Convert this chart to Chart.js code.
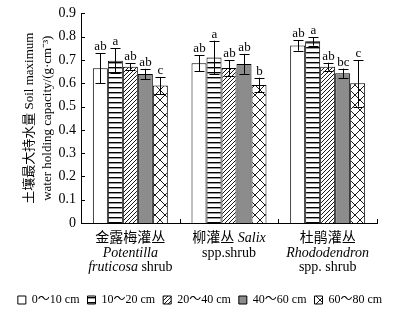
<!DOCTYPE html>
<html>
<head>
<meta charset="utf-8">
<script src="https://cdn.jsdelivr.net/npm/chart.js@4"></script>
<style>
  html, body { margin: 0; padding: 0; background: #fff; }
  #wrap { width: 400px; height: 316px; }
</style>
</head>
<body>
<div id="wrap"><canvas id="chart" width="400" height="316"></canvas></div>
<script>
const categories = ['金露梅灌丛', '柳灌丛', '杜鹃灌丛'];
// x label lines: [text, italic]
const categoryLines = [
  [[['金露梅灌丛', false]], [['Potentilla', true]], [['fruticosa', true], [' shrub', false]]],
  [[['柳灌丛 ', false], ['Salix', true]], [['spp.shrub', false]]],
  [[['杜鹃灌丛', false]], [['Rhododendron', true]], [['spp. shrub', false]]]
];
const depths = ['0～10 cm', '10～20 cm', '20～40 cm', '40～60 cm', '60～80 cm'];
const d0_10 = [0.665, 0.686, 0.762];
const d10_20 = [0.697, 0.711, 0.780];
const d20_40 = [0.671, 0.666, 0.671];
const d40_60 = [0.640, 0.683, 0.643];
const d60_80 = [0.590, 0.593, 0.600];
const err0_10 = [0.065, 0.034, 0.022];
const err10_20 = [0.053, 0.072, 0.018];
const err20_40 = [0.015, 0.034, 0.017];
const err40_60 = [0.022, 0.043, 0.020];
const err60_80 = [0.037, 0.031, 0.100];
const sig0_10 = ['ab', 'ab', 'ab'];
const sig10_20 = ['a', 'a', 'a'];
const sig20_40 = ['ab', 'ab', 'ab'];
const sig40_60 = ['ab', 'ab', 'bc'];
const sig60_80 = ['c', 'b', 'c'];
const yTicks = [0, 0.1, 0.2, 0.3, 0.4, 0.5, 0.6, 0.7, 0.8, 0.9];

const serif = "'Liberation Serif', 'Times New Roman', 'Noto Sans CJK SC', serif";

function makePattern(kind) {
  const c = document.createElement('canvas');
  const ctx = c.getContext('2d');
  if (kind === 'white') {
    return '#ffffff';
  }
  if (kind === 'gray') {
    return '#8c8c8c';
  }
  if (kind === 'hline') {
    c.width = 5; c.height = 5;
    ctx.fillStyle = '#fff'; ctx.fillRect(0, 0, 5, 5);
    ctx.fillStyle = '#000'; ctx.fillRect(0, 2, 5, 1.4);
  } else if (kind === 'diag') {
    c.width = 4; c.height = 4;
    ctx.fillStyle = '#fff'; ctx.fillRect(0, 0, 4, 4);
    ctx.strokeStyle = '#000'; ctx.lineWidth = 0.9;
    ctx.beginPath();
    ctx.moveTo(-1, 5); ctx.lineTo(5, -1);
    ctx.moveTo(-1, 1); ctx.lineTo(1, -1);
    ctx.moveTo(3, 5); ctx.lineTo(5, 3);
    ctx.stroke();
  } else if (kind === 'cross') {
    c.width = 10; c.height = 10;
    ctx.fillStyle = '#fff'; ctx.fillRect(0, 0, 10, 10);
    ctx.strokeStyle = '#000'; ctx.lineWidth = 0.9;
    ctx.beginPath();
    ctx.moveTo(0, 0); ctx.lineTo(10, 10);
    ctx.moveTo(10, 0); ctx.lineTo(0, 10);
    ctx.stroke();
  }
  return ctx.createPattern(c, 'repeat');
}

const values = [d0_10, d10_20, d20_40, d40_60, d60_80];
const errors = [err0_10, err10_20, err20_40, err40_60, err60_80];
const sigs = [sig0_10, sig10_20, sig20_40, sig40_60, sig60_80];
const fills = ['white', 'hline', 'diag', 'gray', 'cross'].map(makePattern);

const datasets = depths.map((d, i) => ({
  label: d,
  data: values[i],
  errors: errors[i],
  sig: sigs[i],
  backgroundColor: fills[i],
  borderColor: '#000',
  borderWidth: 1,
  borderSkipped: 'bottom',
  categoryPercentage: 0.76,
  barPercentage: 1
}));

const errorBars = {
  id: 'errorBars',
  afterDatasetsDraw(chart) {
    const ctx = chart.ctx;
    const y = chart.scales.y;
    ctx.save();
    ctx.strokeStyle = '#000';
    ctx.lineWidth = 1;
    ctx.fillStyle = '#000';
    ctx.font = '13px ' + serif;
    ctx.textAlign = 'center';
    ctx.textBaseline = 'alphabetic';
    chart.data.datasets.forEach((ds, i) => {
      chart.getDatasetMeta(i).data.forEach((bar, j) => {
        const v = ds.data[j], e = ds.errors[j];
        const top = y.getPixelForValue(v + e);
        const bot = y.getPixelForValue(v - e);
        const x = Math.round(bar.x) + 0.5;
        ctx.beginPath();
        ctx.moveTo(x, top); ctx.lineTo(x, bot);
        ctx.moveTo(x - 5, Math.round(top) + 0.5); ctx.lineTo(x + 5, Math.round(top) + 0.5);
        ctx.moveTo(x - 5, Math.round(bot) + 0.5); ctx.lineTo(x + 5, Math.round(bot) + 0.5);
        ctx.stroke();
        ctx.fillText(ds.sig[j], x, top - 3);
      });
    });
    ctx.restore();
  }
};

const axisDecor = {
  id: 'axisDecor',
  afterDraw(chart) {
    const ctx = chart.ctx;
    const x = chart.scales.x, y = chart.scales.y;
    const area = chart.chartArea;
    ctx.save();
    ctx.strokeStyle = '#000';
    ctx.lineWidth = 1;
    ctx.beginPath();
    // inward y ticks
    yTicks.forEach(t => {
      const py = Math.round(y.getPixelForValue(t)) + 0.5;
      ctx.moveTo(area.left, py); ctx.lineTo(area.left + 4, py);
    });
    // inward category separators
    for (let i = 0; i <= categories.length; i++) {
      const px = Math.round(x.getPixelForValue(i - 0.5)) + 0.5;
      ctx.moveTo(px, area.bottom); ctx.lineTo(px, area.bottom - 4);
    }
    ctx.stroke();
    // x labels with italics
    ctx.fillStyle = '#000';
    ctx.textBaseline = 'middle';
    const lineYs = [238, 253, 267];
    const upright = '14px ' + serif;
    const italic = 'italic 14px ' + serif;
    categoryLines.forEach((lines, i) => {
      const cx = x.getPixelForValue(i);
      lines.forEach((segs, k) => {
        let w = 0;
        segs.forEach(s => { ctx.font = s[1] ? italic : upright; w += ctx.measureText(s[0]).width; });
        let sx = cx - w / 2;
        ctx.textAlign = 'left';
        segs.forEach(s => {
          ctx.font = s[1] ? italic : upright;
          ctx.fillText(s[0], sx, lineYs[k]);
          sx += ctx.measureText(s[0]).width;
        });
      });
    });
    ctx.restore();
  }
};

new Chart(document.getElementById('chart'), {
  type: 'bar',
  data: { labels: categories, datasets: datasets },
  plugins: [errorBars, axisDecor],
  options: {
    responsive: false,
    animation: false,
    layout: { padding: { top: 11, right: 0, left: 0, bottom: 0 } },
    plugins: {
      tooltip: { enabled: false },
      legend: {
        position: 'bottom',
        labels: {
          boxWidth: 8,
          boxHeight: 8,
          padding: 8,
          color: '#000',
          font: { family: serif, size: 12 },
          generateLabels(chart) {
            return chart.data.datasets.map((ds, i) => ({
              text: ds.label,
              fillStyle: ds.backgroundColor,
              strokeStyle: '#000',
              lineWidth: 1,
              datasetIndex: i,
              fontColor: '#000'
            }));
          }
        }
      }
    },
    scales: {
      x: {
        grid: { display: false },
        border: { color: '#000', width: 1 },
        ticks: { display: false },
        afterFit(s) { s.height = 63; }
      },
      y: {
        min: 0,
        max: 0.9,
        afterBuildTicks(s) { s.ticks = yTicks.map(v => ({ value: v })); },
        grid: { display: false, drawTicks: false },
        border: { color: '#000', width: 1 },
        ticks: {
          color: '#000',
          padding: 5,
          font: { family: serif, size: 14 },
          callback: v => String(Math.round(v * 10) / 10)
        },
        title: {
          display: true,
          text: ['土壤最大持水量 Soil maximum', 'water holding capacity/(g·cm⁻³)'],
          color: '#000',
          font: { family: serif, size: 13, lineHeight: 1.35 },
          padding: { top: 21, bottom: 0 }
        },
        afterFit(s) { s.width = 81; }
      },
      yRight: {
        position: 'right',
        min: 0,
        max: 0.9,
        grid: { display: false, drawTicks: false },
        border: { display: false },
        ticks: { display: false },
        afterFit(s) { s.width = 23; }
      }
    }
  }
});
</script>
</body>
</html>
